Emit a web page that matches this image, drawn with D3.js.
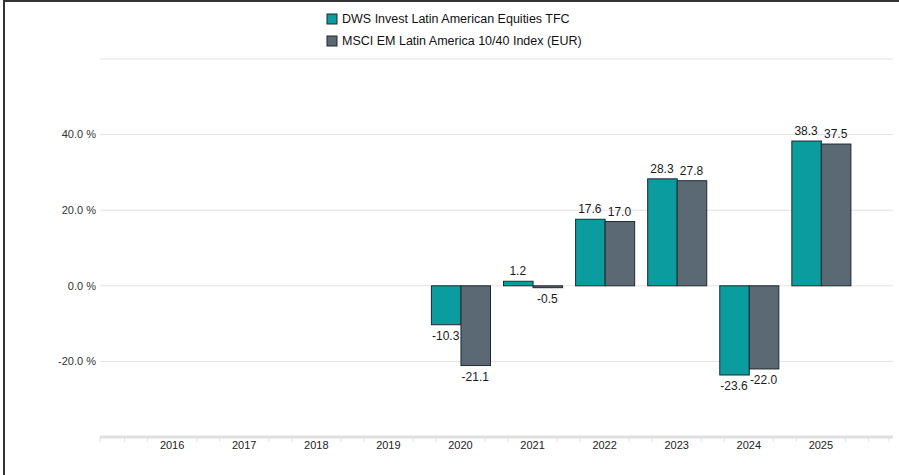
<!DOCTYPE html>
<html lang="en">
<head>
<meta charset="utf-8">
<title>Calendar year performance</title>
<script src="https://cdn.jsdelivr.net/npm/d3@7"></script>
<style>
  body { margin: 0; background: #fff; font-family: "Liberation Sans", Arial, sans-serif; }
  .frame { stroke: #333; stroke-width: 2; }
</style>
</head>
<body>
<div id="chart"></div>
<script>
// chart data
const years = ["2016", "2017", "2018", "2019", "2020", "2021", "2022", "2023", "2024", "2025"];
const fundValues = [null, null, null, null, -10.3, 1.2, 17.6, 28.3, -23.6, 38.3];
const indexValues = [null, null, null, null, -21.1, -0.5, 17.0, 27.8, -22.0, 37.5];
const seriesNames = ["DWS Invest Latin American Equities TFC", "MSCI EM Latin America 10/40 Index (EUR)"];
const seriesColors = ["#0a9c9e", "#5b6974"];
const yTicks = [-20, 0, 20, 40];
const gridLines = [-20, 0, 20, 40, 60];

const W = 899, H = 475;
const margin = {top: 59, right: 6, bottom: 38, left: 100};

const svg = d3.select("#chart").append("svg")
  .attr("width", W)
  .attr("height", H);

// outer frame (top + left only)
svg.append("line").attr("class", "frame").attr("x1", 3).attr("x2", W).attr("y1", 1).attr("y2", 1);
svg.append("line").attr("class", "frame").attr("x1", 4).attr("x2", 4).attr("y1", 0).attr("y2", H);

const x0 = d3.scaleBand()
  .domain(["_a"].concat(years, ["_b"]))
  .range([margin.left - 36, W - margin.right + 36]);

const x1 = d3.scaleBand()
  .domain([0, 1])
  .range([0, x0.bandwidth()])
  .paddingInner(0)
  .paddingOuter(0.22);

const y = d3.scaleLinear()
  .domain([-40, 60])
  .range([H - margin.bottom, margin.top]);

const g = svg.append("g");

// grid
g.selectAll(".grid")
  .data(gridLines)
  .join("line")
    .attr("x1", margin.left)
    .attr("x2", W - margin.right)
    .attr("y1", d => y(d))
    .attr("y2", d => y(d))
    .attr("stroke", "#e3e3e3")
    .attr("stroke-width", 1);

// y labels
g.selectAll(".ylab")
  .data(yTicks)
  .join("text")
    .attr("x", margin.left - 4)
    .attr("y", d => y(d))
    .attr("dy", "0.35em")
    .attr("text-anchor", "end")
    .attr("font-size", 11)
    .attr("fill", "#333")
    .text(d => d.toFixed(1) + " %");

// x axis line + ticks
const axisY = y(-40);
g.append("line")
  .attr("x1", margin.left)
  .attr("x2", W - margin.right)
  .attr("y1", axisY)
  .attr("y2", axisY)
  .attr("stroke", "#e0e0e0")
  .attr("stroke-width", 3);

const bounds = ["_a"].concat(years).map(d => x0(d) + x0.bandwidth());
const tickXs = [margin.left, W - margin.right - 4];
bounds.forEach(b => { tickXs.push(b - 11.5, b + 11.5); });
g.selectAll(".xtick")
  .data(tickXs)
  .join("line")
    .attr("x1", d => d)
    .attr("x2", d => d)
    .attr("y1", axisY)
    .attr("y2", axisY + 5)
    .attr("stroke", "#e0e0e0")
    .attr("stroke-width", 1);

g.selectAll(".xlab")
  .data(years)
  .join("text")
    .attr("x", d => x0(d) + x0.bandwidth() / 2)
    .attr("y", axisY + 8)
    .attr("dy", "0.35em")
    .attr("text-anchor", "middle")
    .attr("font-size", 11)
    .attr("fill", "#222")
    .text(d => d);

// bars
const rows = [];
years.forEach((yr, i) => {
  [fundValues[i], indexValues[i]].forEach((v, s) => {
    if (v !== null) rows.push({year: yr, s: s, v: v});
  });
});

const bx = d => x0(d.year) + x1(d.s);

g.selectAll(".bar")
  .data(rows)
  .join("rect")
    .attr("x", d => bx(d) + 0.5)
    .attr("y", d => y(Math.max(0, d.v)))
    .attr("width", x1.bandwidth())
    .attr("height", d => Math.max(1, Math.abs(y(d.v) - y(0))))
    .attr("fill", d => seriesColors[d.s])
    .attr("stroke", "#1e2a2e")
    .attr("stroke-width", 1);

g.selectAll(".val")
  .data(rows)
  .join("text")
    .attr("x", d => bx(d) + x1.bandwidth() / 2)
    .attr("y", d => d.v >= 0 ? y(d.v) - 6 : y(d.v) + 15)
    .attr("text-anchor", "middle")
    .attr("font-size", 12)
    .attr("fill", "#1a1a1a")
    .text(d => d.v.toFixed(1));

// legend
const legend = svg.append("g").attr("transform", "translate(327,14)");
seriesNames.forEach((name, i) => {
  const row = legend.append("g").attr("transform", `translate(0,${i * 22})`);
  row.append("rect")
    .attr("width", 10).attr("height", 10)
    .attr("fill", seriesColors[i])
    .attr("stroke", "#1e2a2e").attr("stroke-width", 1);
  row.append("text")
    .attr("x", 15).attr("y", 5).attr("dy", "0.35em")
    .attr("font-size", 12.5).attr("fill", "#111")
    .text(name);
});
</script>
</body>
</html>
